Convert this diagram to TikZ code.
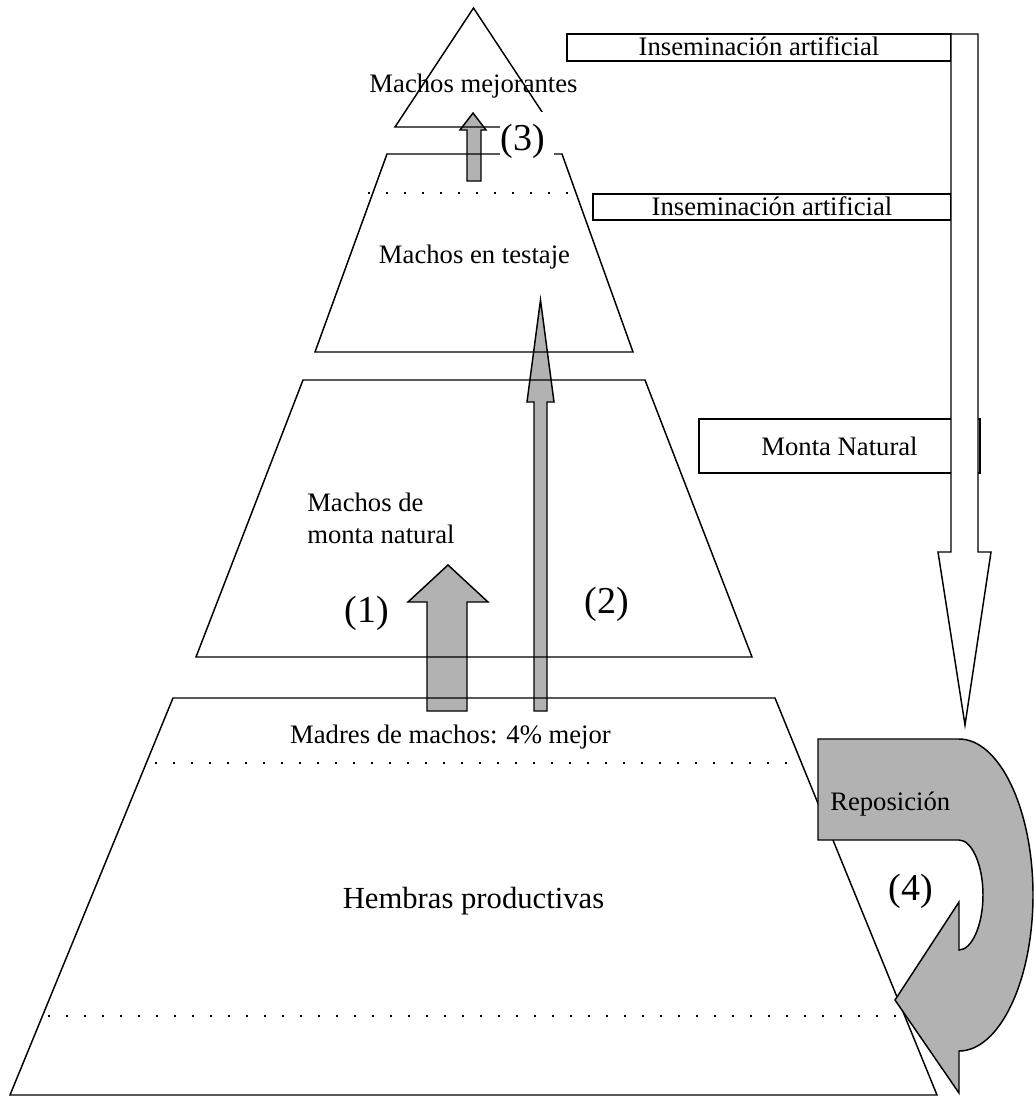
\documentclass[tikz,border=0pt]{standalone}
\usepackage{fontspec}
\setmainfont{Liberation Serif}
\definecolor{agray}{RGB}{178,178,178}
\begin{document}
\begin{tikzpicture}[x=0.75pt,y=-0.75pt,
 outl/.style={draw=black, line width=1.1pt},
 garrow/.style={draw=black, fill=agray, line width=1.1pt},
 warrow/.style={draw=black, fill=white, line width=1.1pt},
 dotline/.style={draw=black, line width=1.3pt, dash pattern=on 1.3pt off 12.2pt},
 lbl/.style={font=\fontsize{20}{24}\selectfont, inner sep=0pt},
 big/.style={font=\fontsize{23}{27}\selectfont, inner sep=0pt},
 num/.style={font=\fontsize{28.5}{32}\selectfont, inner sep=0pt},
 boxline/.style={draw=black, line width=1.1pt}]
\useasboundingbox (0,0) rectangle (1034,1097);

% gray upward arrows
\filldraw[garrow] (467,181) -- (467,130) -- (460,130) -- (473,113) -- (486,130) -- (481,130) -- (481,181) -- cycle;
\filldraw[garrow] (427,711) -- (427,602) -- (408,602) -- (448,565) -- (488,602) -- (467,602) -- (467,711) -- cycle;
\filldraw[garrow] (534,711) -- (534,402) -- (527,402) -- (540.5,300) -- (554,402) -- (547,402) -- (547,711) -- cycle;

% pyramid levels
\draw[outl] (473.5,8) -- (552,127) -- (395,127) -- cycle;
\draw[outl] (387,154) -- (562,154) -- (633,352) -- (315,352) -- cycle;
\draw[outl] (303,380) -- (645,380) -- (752,657) -- (196,657) -- cycle;
\draw[outl] (173,698) -- (775,698) -- (937,1095) -- (10,1095) -- cycle;

% dotted separators
\draw[dotline] (368,193) -- (570,193);
\draw[dotline] (155,763) -- (788,763);
\draw[dotline] (48,1016) -- (898,1016);

% label (3) with white background
\fill[white] (500,112) rectangle (554,159);
\node[num, anchor=base] (n3) at (523,150) {(3)};

% pyramid texts
\node[lbl, anchor=base] (mejor) at (473.5,92) {Machos mejorantes};
\node[lbl, anchor=base] (testaje) at (474.5,263) {Machos en testaje};
\node[lbl, anchor=base west] (mdn1) at (307,511) {Machos de};
\node[lbl, anchor=base west] (mdn2) at (307,543) {monta natural};
\node[num, anchor=base] (n1) at (367,622) {(1)};
\node[num, anchor=base] (n2) at (607,613) {(2)};
\node[lbl, anchor=base] (madres) at (450.5,743) {Madres de machos: 4\% mejor};
\node[big, anchor=base] (hembras) at (473.5,908) {Hembras productivas};

% right-hand boxes
\draw[boxline] (567,34) rectangle (951,61);
\node[lbl, anchor=base] (ia1) at (759,55) {Inseminación artificial};
\draw[boxline] (593,194) rectangle (951,220);
\node[lbl, anchor=base] (ia2) at (772,215) {Inseminación artificial};
\draw[boxline] (699,419) rectangle (980,473);
\node[lbl, anchor=base] (mn) at (839.5,455) {Monta Natural};

% white downward arrow
\filldraw[warrow] (951,34) -- (978,34) -- (978,552) -- (991,552) -- (965,725) -- (938,552) -- (951,552) -- cycle;

% gray curved arrow (Reposicion)
\filldraw[garrow] (818,739) -- (959,739)
  .. controls (999.3,739) and (1033,808.8) .. (1033,895)
  .. controls (1033,981.2) and (999.3,1051) .. (959,1051)
  -- (959,1093) -- (895,1000) -- (959,902) -- (959,950)
  .. controls (971.7,950) and (983,925.4) .. (983,895)
  .. controls (983,864.6) and (971.7,840) .. (959,840)
  -- (818,840) -- cycle;
\node[lbl, anchor=base west] (repo) at (830,810) {Reposición};
\node[num, anchor=base] (n4) at (911,900) {(4)};
\end{tikzpicture}
\end{document}
